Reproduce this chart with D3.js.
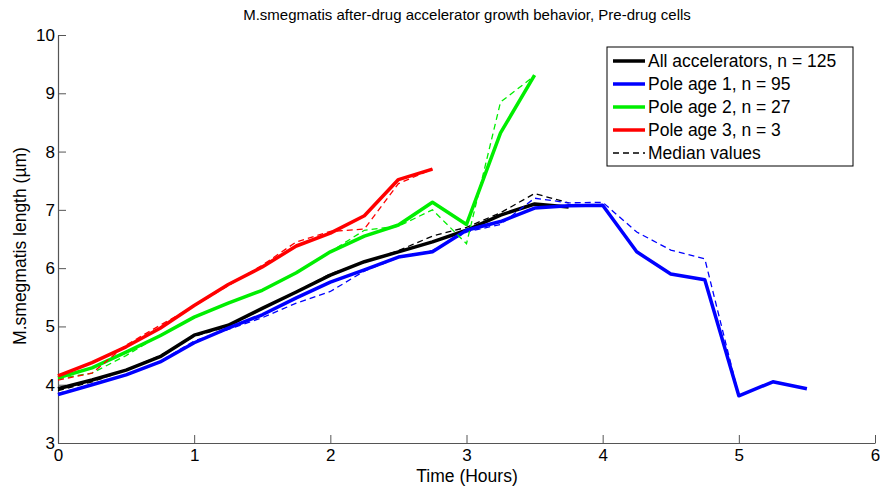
<!DOCTYPE html>
<html>
<head>
<meta charset="utf-8">
<script src="https://cdn.jsdelivr.net/npm/d3@7"></script>
<style>
  body { margin: 0; background: #fff; }
  text { font-family: "Liberation Sans", Arial, sans-serif; fill: #000; }
</style>
</head>
<body>
<svg id="chart" width="880" height="489"></svg>
<script>
// time points (hours)
const hours = [0, 0.25, 0.5, 0.75, 1, 1.25, 1.5, 1.75, 2, 2.25, 2.5, 2.75, 3, 3.25, 3.5, 3.75, 4, 4.25, 4.5, 4.75, 5, 5.25, 5.5];

// mean lengths (um) per group
const allMean  = [3.93, 4.08, 4.25, 4.48, 4.85, 5.02, 5.31, 5.59, 5.88, 6.11, 6.28, 6.45, 6.65, 6.91, 7.1, 7.05];
const pole1Mean = [3.83, 4.0, 4.17, 4.39, 4.72, 4.97, 5.2, 5.49, 5.76, 5.97, 6.19, 6.28, 6.65, 6.8, 7.03, 7.07, 7.08, 6.28, 5.9, 5.8, 3.81, 4.05, 3.93];
const pole2Mean = [4.12, 4.29, 4.56, 4.84, 5.16, 5.4, 5.62, 5.92, 6.28, 6.55, 6.74, 7.13, 6.75, 8.32, 9.31];
const pole3Mean = [4.15, 4.38, 4.65, 4.97, 5.36, 5.72, 6.02, 6.38, 6.6, 6.9, 7.52, 7.7];

// median lengths
const allMedian  = [3.9, 4.05, 4.25, 4.5, 4.83, 5.0, 5.3, 5.6, 5.9, 6.1, 6.3, 6.55, 6.7, 6.95, 7.28, 7.12];
const pole1Median = [3.85, 4.0, 4.17, 4.4, 4.75, 4.95, 5.15, 5.4, 5.6, 5.95, 6.18, 6.3, 6.62, 6.75, 7.2, 7.12, 7.13, 6.62, 6.31, 6.16, 3.81, 4.05, 3.93];
const pole2Median = [4.1, 4.2, 4.5, 4.85, 5.15, 5.4, 5.62, 5.92, 6.28, 6.65, 6.72, 7.0, 6.42, 8.85, 9.3];
const pole3Median = [4.08, 4.2, 4.68, 5.02, 5.35, 5.7, 6.05, 6.45, 6.63, 6.67, 7.45, 7.7];

const legendLabels = ["All accelerators, n = 125", "Pole age 1, n = 95", "Pole age 2, n = 27", "Pole age 3, n = 3", "Median values"];
const xTicks = [0, 1, 2, 3, 4, 5, 6];
const yTicks = [3, 4, 5, 6, 7, 8, 9, 10];

const svg = d3.select("#chart");

const x = d3.scaleLinear().domain([0, 6]).range([58, 875]);
const y = d3.scaleLinear().domain([3, 10]).range([443, 35]);

// axes (box off, ticks inward)
const xAxis = svg.append("g")
    .attr("transform", "translate(0,443)")
    .call(d3.axisBottom(x).tickValues(xTicks).tickFormat(d3.format("d")).tickSizeInner(-8).tickSizeOuter(0).tickPadding(4));
const yAxis = svg.append("g")
    .attr("transform", "translate(58,0)")
    .call(d3.axisLeft(y).tickValues(yTicks).tickFormat(d3.format("d")).tickSizeInner(-8).tickSizeOuter(0).tickPadding(3));

[xAxis, yAxis].forEach(g => {
  g.select(".domain").attr("stroke", "#555").attr("stroke-width", 1.2);
  g.selectAll(".tick line").attr("stroke", "#555");
  g.selectAll(".tick text")
    .style("font-family", "'Liberation Sans', Arial, sans-serif")
    .style("font-size", "17px")
    .attr("fill", "#000");
});
xAxis.selectAll(".tick text").attr("dy", "0.85em");

const line = d3.line()
    .x((d, i) => x(hours[i]))
    .y(d => y(d));

const groups = [
  { mean: allMean, median: allMedian, color: "#000000" },
  { mean: pole1Mean, median: pole1Median, color: "#0000ff" },
  { mean: pole2Mean, median: pole2Median, color: "#00ee00" },
  { mean: pole3Mean, median: pole3Median, color: "#ff0000" }
];

groups.forEach(g => {
  svg.append("path")
      .datum(g.mean)
      .attr("d", line)
      .attr("fill", "none")
      .attr("stroke", g.color)
      .attr("stroke-width", 3.5)
      .attr("stroke-linejoin", "round");
  svg.append("path")
      .datum(g.median)
      .attr("d", line)
      .attr("fill", "none")
      .attr("stroke", g.color)
      .attr("stroke-width", 1.3)
      .attr("stroke-dasharray", "6,4");
});

// title + axis labels
svg.append("text")
    .attr("x", 467)
    .attr("y", 20)
    .attr("text-anchor", "middle")
    .style("font-size", "15px")
    .text("M.smegmatis after-drug accelerator growth behavior, Pre-drug cells");

svg.append("text")
    .attr("x", 467)
    .attr("y", 482)
    .attr("text-anchor", "middle")
    .style("font-size", "17.5px")
    .text("Time (Hours)");

svg.append("text")
    .attr("transform", "translate(26,246) rotate(-90)")
    .attr("text-anchor", "middle")
    .style("font-size", "17.5px")
    .text("M.smegmatis length (µm)");

// legend
const legend = svg.append("g");
legend.append("rect")
    .attr("x", 607)
    .attr("y", 47)
    .attr("width", 246)
    .attr("height", 119)
    .attr("fill", "#fff")
    .attr("stroke", "#000")
    .attr("stroke-width", 1);

const legendColors = ["#000000", "#0000ff", "#00ee00", "#ff0000", "#000000"];
legendLabels.forEach((lab, i) => {
  const ly = 61 + i * 23;
  legend.append("line")
      .attr("x1", 613)
      .attr("x2", 645)
      .attr("y1", ly)
      .attr("y2", ly)
      .attr("stroke", legendColors[i])
      .attr("stroke-width", i < 4 ? 3.5 : 1.3)
      .attr("stroke-dasharray", i < 4 ? null : "6,4");
  legend.append("text")
      .attr("x", 648)
      .attr("y", ly + 6)
      .style("font-size", "17.5px")
      .text(lab);
});
</script>
</body>
</html>
